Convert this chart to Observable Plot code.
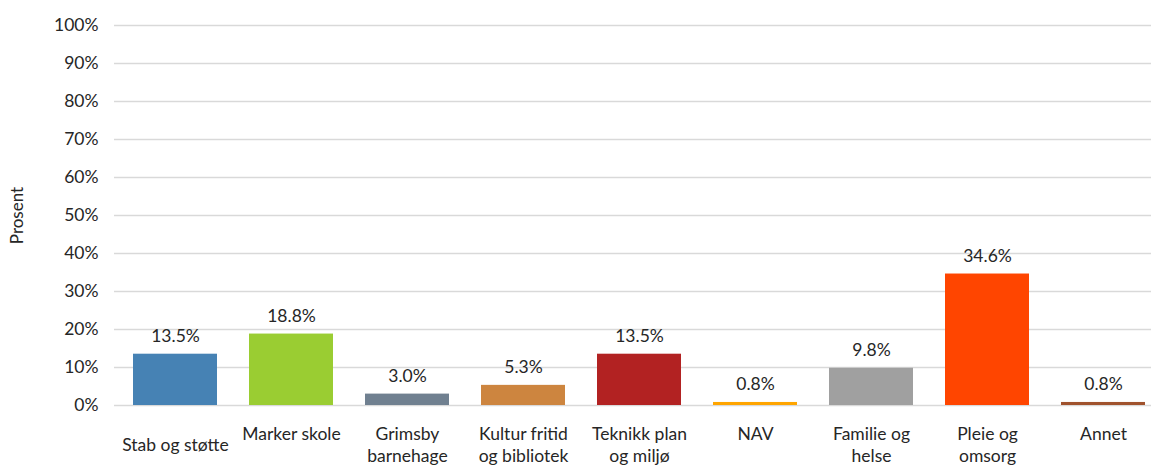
<!DOCTYPE html>
<html>
<head>
<meta charset="utf-8">
<script src="https://cdn.jsdelivr.net/npm/d3@7"></script>
<script src="https://cdn.jsdelivr.net/npm/@observablehq/plot@0.6"></script>
<style>
  html, body { margin: 0; padding: 0; background: #fff; overflow: hidden; }
  #chart svg { display: block; }
</style>
</head>
<body>
<div id="chart"></div>
<script>
const categories = ["Stab og støtte", "Marker skole", "Grimsby barnehage", "Kultur fritid og bibliotek", "Teknikk plan og miljø", "NAV", "Familie og helse", "Pleie og omsorg", "Annet"];
const labelLines = [["Stab og støtte"], ["Marker skole"], ["Grimsby", "barnehage"], ["Kultur fritid", "og bibliotek"], ["Teknikk plan", "og miljø"], ["NAV"], ["Familie og", "helse"], ["Pleie og", "omsorg"], ["Annet"]];
const values = [13.5, 18.8, 3.0, 5.3, 13.5, 0.8, 9.8, 34.6, 0.8];
const colors = ["#4682B4", "#9ACD32", "#708090", "#CD853F", "#B22222", "#FFA500", "#A0A0A0", "#FF4500", "#A0522D"];
const yTicks = [0, 10, 20, 30, 40, 50, 60, 70, 80, 90, 100];

const data = categories.map((c, i) => ({cat: c, value: values[i], label: labelLines[i].join("\n")}));

const font = "Lato, 'Open Sans', sans-serif";
const textColor = "#262626";
const fs = 17.5;

const chart = Plot.plot({
  width: 1151,
  height: 466,
  marginTop: 25,
  marginBottom: 61,
  marginLeft: 114,
  marginRight: -12,
  style: {fontFamily: font, fontSize: fs + "px", color: textColor, background: "#fff"},
  x: {domain: categories, paddingInner: 0.28, paddingOuter: 0.14, axis: null},
  y: {domain: [0, 100], axis: null},
  color: {domain: categories, range: colors},
  marks: [
    Plot.ruleY(yTicks, {stroke: "#d9d9d9", strokeWidth: 1.3, strokeOpacity: 1}),
    Plot.barY(data, {x: "cat", y: "value", fill: "cat"}),
    Plot.text(data, {x: "cat", y: "value", text: d => d.value.toFixed(1) + "%", dy: -18, fill: textColor, fontSize: fs}),
    Plot.axisY(yTicks, {tickSize: 0, tickPadding: 16, tickFormat: d => d + "%", fill: textColor, fontSize: fs, label: null}),
    Plot.text(data.filter(d => d.cat !== "Stab og støtte"), {x: "cat", y: 0, text: "label", dy: 19, lineAnchor: "top", lineHeight: 1.26, fill: textColor, fontSize: fs}),
    Plot.text(data.filter(d => d.cat === "Stab og støtte"), {x: "cat", y: 0, text: "label", dy: 33, lineAnchor: "top", fill: textColor, fontSize: fs}),
    Plot.text(["Prosent"], {frameAnchor: "left", textAnchor: "middle", dx: -97, rotate: -90, fill: textColor, fontSize: 17})
  ]
});
document.getElementById("chart").appendChild(chart);
</script>
</body>
</html>
